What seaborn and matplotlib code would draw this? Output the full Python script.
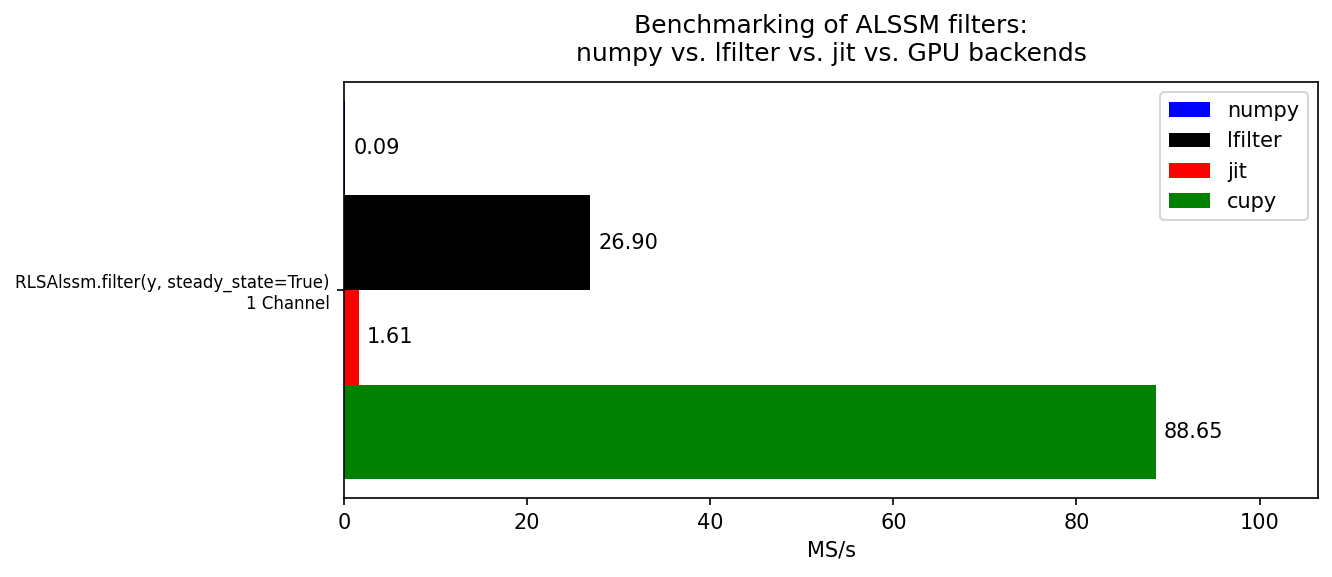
import pandas as pd
import seaborn as sns
import matplotlib.pyplot as plt

benchmark = ['RLSAlssm.filter(y, steady_state=True)\n1 Channel']
backends = ['numpy', 'lfilter', 'jit', 'cupy']
msps = [0.09, 26.90, 1.61, 88.65]
colors = ['blue', 'black', 'red', 'green']

df = pd.DataFrame({'benchmark': benchmark * len(backends), 'backend': backends, 'MS/s': msps})

fig, ax = plt.subplots(figsize=(1332 / 150, 577 / 150), dpi=150)
fig.subplots_adjust(left=0.2583, right=0.9895, top=0.8579, bottom=0.1369)

sns.barplot(data=df, y='benchmark', x='MS/s', hue='backend', hue_order=backends,
            palette=colors, orient='h', width=0.8, saturation=1, ax=ax)

for cont in ax.containers:
    ax.bar_label(cont, fmt='%.2f', padding=4, fontsize=10)

# matplotlib-like margins around the bar group
ax.set_ylim(0.44, -0.44)
ax.set_xlim(0, max(msps) * 1.2)
ax.set_ylabel('')
ax.set_xlabel('MS/s')
ax.tick_params(axis='y', labelsize=8)
ax.set_title('Benchmarking of ALSSM filters:\nnumpy vs. lfilter vs. jit vs. GPU backends', fontsize=12, pad=10)
ax.legend(loc='upper right')

plt.savefig('out.png', dpi=150)
